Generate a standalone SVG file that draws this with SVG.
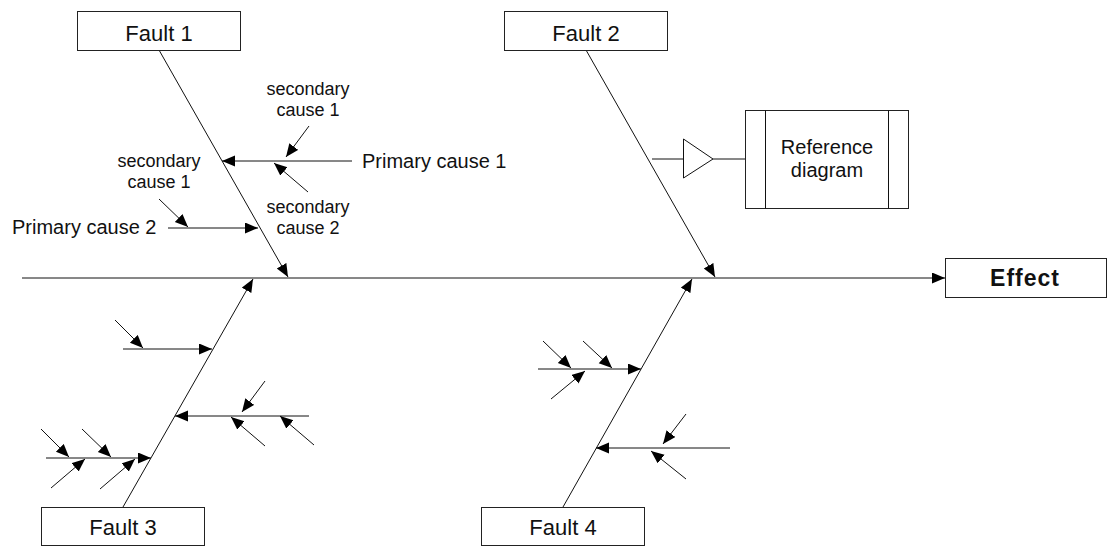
<svg xmlns="http://www.w3.org/2000/svg" width="1107" height="546" viewBox="0 0 1107 546">
  <defs>
    <marker id="arr" markerUnits="userSpaceOnUse" markerWidth="14" markerHeight="12" refX="13" refY="5.5" orient="auto">
      <path d="M0,0 L13,5.5 L0,11 z" fill="#000"/>
    </marker>
    <style>
      .box { fill: #fff; stroke: #222; stroke-width: 1; }
      .ln { stroke: #111; stroke-width: 1; fill: none; }
      .ar { stroke: #111; stroke-width: 1; fill: none; marker-end: url(#arr); }
      .t { font-family: "Liberation Sans", Arial, sans-serif; fill: #111; }
      .fault { font-size: 22px; text-anchor: middle; }
      .prim { font-size: 20px; }
      .sec { font-size: 18px; text-anchor: middle; }
    </style>
  </defs>
  <rect width="1107" height="546" fill="#fff"/>

  <!-- spine, bones and cause arrows -->
  <g id="connectors">
    <line class="ar" x1="22" y1="278" x2="945" y2="278"/>

    <!-- fault bones -->
    <line class="ar" x1="159" y1="50" x2="288" y2="277"/>
    <line class="ar" x1="586" y1="50" x2="715" y2="277"/>
    <line class="ar" x1="123" y1="507" x2="253" y2="279"/>
    <line class="ar" x1="563" y1="507" x2="692" y2="279"/>

    <!-- Fault 1 causes -->
    <line class="ar" x1="352" y1="161" x2="222" y2="161"/>
    <line class="ar" x1="309" y1="126" x2="286" y2="157"/>
    <line class="ar" x1="308" y1="192" x2="274" y2="163"/>
    <line class="ar" x1="168" y1="228" x2="258" y2="228"/>
    <line class="ar" x1="159" y1="199" x2="188" y2="227"/>

    <!-- Fault 3 causes -->
    <line class="ar" x1="123" y1="349" x2="212" y2="349"/>
    <line class="ar" x1="115" y1="320" x2="143" y2="348"/>
    <line class="ar" x1="309" y1="416" x2="175" y2="416"/>
    <line class="ar" x1="265" y1="381" x2="242" y2="412"/>
    <line class="ar" x1="265" y1="446" x2="231" y2="417"/>
    <line class="ar" x1="314" y1="445" x2="280" y2="416"/>
    <line class="ar" x1="46" y1="458" x2="151" y2="458"/>
    <line class="ar" x1="41" y1="429" x2="69" y2="457"/>
    <line class="ar" x1="82" y1="429" x2="111" y2="457"/>
    <line class="ar" x1="51" y1="488" x2="85" y2="459"/>
    <line class="ar" x1="100" y1="489" x2="135" y2="459"/>

    <!-- Fault 4 causes -->
    <line class="ar" x1="538" y1="369" x2="641" y2="369"/>
    <line class="ar" x1="543" y1="341" x2="571" y2="368"/>
    <line class="ar" x1="583" y1="341" x2="612" y2="368"/>
    <line class="ar" x1="551" y1="399" x2="585" y2="371"/>
    <line class="ar" x1="730" y1="448" x2="596" y2="448"/>
    <line class="ar" x1="686" y1="414" x2="663" y2="444"/>
    <line class="ar" x1="686" y1="479" x2="651" y2="451"/>

    <!-- link to reference diagram -->
    <line class="ln" x1="652" y1="159" x2="683" y2="159"/>
    <line class="ln" x1="713" y1="159" x2="745" y2="159"/>
  </g>

  <g id="fault1">
    <rect class="box" x="77.5" y="11.5" width="163" height="39"/>
    <text class="t fault" x="159" y="41">Fault 1</text>
  </g>
  <g id="fault2">
    <rect class="box" x="504.5" y="11.5" width="163" height="39"/>
    <text class="t fault" x="586" y="41">Fault 2</text>
  </g>
  <g id="fault3">
    <rect class="box" x="41.5" y="507.5" width="163" height="38"/>
    <text class="t fault" x="123" y="535">Fault 3</text>
  </g>
  <g id="fault4">
    <rect class="box" x="481.5" y="507.5" width="163" height="38"/>
    <text class="t fault" x="563" y="535">Fault 4</text>
  </g>
  <g id="effect">
    <rect class="box" x="945.5" y="258.5" width="161" height="39"/>
    <text class="t" x="1025" y="286" font-size="23" font-weight="bold" letter-spacing="1" text-anchor="middle">Effect</text>
  </g>

  <g id="triangle">
    <path class="ln" d="M683.5,139 L713,159 L683.5,178 z" fill="#fff"/>
  </g>
  <g id="reference">
    <rect class="box" x="745.5" y="110.5" width="163" height="98"/>
    <line class="ln" x1="765.5" y1="110.5" x2="765.5" y2="208.5"/>
    <line class="ln" x1="888.5" y1="110.5" x2="888.5" y2="208.5"/>
    <text class="t" x="827" y="154" font-size="20" text-anchor="middle">Reference</text>
    <text class="t" x="827" y="177" font-size="20" text-anchor="middle">diagram</text>
  </g>

  <g id="labels">
    <text class="t prim" x="362" y="168">Primary cause 1</text>
    <text class="t prim" x="12" y="234">Primary cause 2</text>
    <text class="t sec" x="308" y="95">secondary</text>
    <text class="t sec" x="308" y="116">cause 1</text>
    <text class="t sec" x="308" y="213">secondary</text>
    <text class="t sec" x="308" y="234">cause 2</text>
    <text class="t sec" x="159" y="167">secondary</text>
    <text class="t sec" x="159" y="188">cause 1</text>
  </g>
</svg>
